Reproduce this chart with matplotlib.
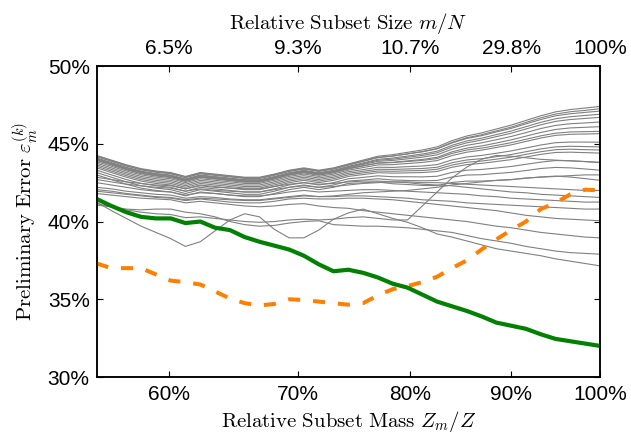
import matplotlib
matplotlib.use("Agg")
import matplotlib.pyplot as plt
import numpy as np

plt.rcParams['font.family'] = ['Liberation Sans', 'DejaVu Sans']
plt.rcParams['mathtext.fontset'] = 'cm'

# tick labels (bottom: relative mass, top: relative size) and their step positions
mass_labels = ['60%', '70%', '80%', '90%', '100%']
size_labels = ['6.5%', '9.3%', '10.7%', '29.8%', '100%']
tick_steps = [4.9, 13.6, 21.2, 28.0, 34]
error_ticks = [30, 35, 40, 45, 50]

# preliminary error (%) per step
green_err = [41.45, 41.0, 40.6, 40.3, 40.2, 40.2, 39.9, 40.0, 39.6, 39.45, 39.0, 38.7, 38.45, 38.2, 37.8,
             37.25, 36.8, 36.9, 36.7, 36.4, 36.0, 35.75, 35.3, 34.85, 34.55, 34.25, 33.9, 33.5, 33.3,
             33.1, 32.75, 32.45, 32.3, 32.15, 32.0]
orange_err = [37.3, 37.0, 37.0, 37.0, 36.6, 36.2, 36.1, 35.95, 35.5, 35.05, 34.75, 34.6, 34.7, 35.0, 34.95,
              34.85, 34.75, 34.65, 34.75, 35.25, 35.65, 35.85, 36.1, 36.45, 37.0, 37.5, 38.2, 38.85, 39.45,
              40.0, 40.8, 41.2, 41.75, 42.05, 42.0]

trial_errors = [
    [44.25, 43.95, 43.65, 43.4, 43.25, 43.15, 42.9, 43.15, 43.05, 42.95, 42.85, 42.85, 43.05, 43.3, 43.45, 43.3, 43.45, 43.7,
     43.95, 44.2, 44.3, 44.45, 44.6, 44.8, 45.2, 45.5, 45.7, 45.95, 46.2, 46.5, 46.8, 47.05, 47.2, 47.3, 47.4],
    [44.21, 43.91, 43.61, 43.36, 43.21, 43.11, 42.86, 43.11, 43.01, 42.91, 42.81, 42.81, 43.01, 43.26, 43.41, 43.26, 43.41, 43.66,
     43.89, 44.13, 44.21, 44.35, 44.48, 44.67, 45.05, 45.34, 45.52, 45.76, 45.99, 46.28, 46.56, 46.8, 46.93, 47.02, 47.1],
    [44.17, 43.87, 43.57, 43.32, 43.17, 43.07, 42.82, 43.07, 42.97, 42.87, 42.77, 42.77, 42.97, 43.22, 43.37, 43.22, 43.37, 43.62,
     43.87, 44.11, 44.21, 44.35, 44.5, 44.7, 45.09, 45.39, 45.58, 45.83, 46.07, 46.37, 46.67, 46.91, 47.06, 47.15, 47.25],
    [44.09, 43.79, 43.49, 43.24, 43.09, 42.99, 42.74, 42.99, 42.89, 42.79, 42.69, 42.69, 42.89, 43.14, 43.29, 43.14, 43.29, 43.54,
     43.77, 44.0, 44.08, 44.21, 44.34, 44.52, 44.9, 45.18, 45.36, 45.59, 45.82, 46.1, 46.38, 46.61, 46.74, 46.82, 46.9],
    [44.05, 43.75, 43.45, 43.2, 43.05, 42.95, 42.7, 42.95, 42.85, 42.75, 42.65, 42.65, 42.85, 43.1, 43.25, 43.1, 43.25, 43.5,
     43.72, 43.94, 44.01, 44.13, 44.25, 44.42, 44.79, 45.06, 45.24, 45.46, 45.68, 45.95, 46.22, 46.44, 46.56, 46.63, 46.7],
    [44.01, 43.71, 43.41, 43.16, 43.01, 42.91, 42.66, 42.91, 42.81, 42.71, 42.61, 42.61, 42.81, 43.06, 43.21, 43.06, 43.21, 43.46,
     43.67, 43.87, 43.93, 44.03, 44.14, 44.29, 44.65, 44.9, 45.06, 45.26, 45.47, 45.72, 45.98, 46.18, 46.29, 46.34, 46.4],
    [43.97, 43.67, 43.37, 43.12, 42.97, 42.87, 42.62, 42.87, 42.77, 42.67, 42.57, 42.57, 42.77, 43.02, 43.17, 43.02, 43.17, 43.42,
     43.59, 43.76, 43.79, 43.86, 43.93, 44.05, 44.38, 44.6, 44.72, 44.89, 45.07, 45.29, 45.51, 45.68, 45.76, 45.78, 45.8],
    [43.93, 43.63, 43.33, 43.08, 42.93, 42.83, 42.58, 42.83, 42.73, 42.63, 42.53, 42.53, 42.73, 42.98, 43.13, 42.98, 43.13, 43.38,
     43.57, 43.76, 43.81, 43.9, 43.99, 44.13, 44.48, 44.72, 44.86, 45.05, 45.25, 45.49, 45.73, 45.92, 46.02, 46.06, 46.1],
    [43.85, 43.55, 43.25, 43.0, 42.85, 42.75, 42.5, 42.75, 42.65, 42.55, 42.45, 42.45, 42.65, 42.9, 43.05, 42.9, 43.05, 43.3,
     43.47, 43.64, 43.66, 43.73, 43.8, 43.92, 44.24, 44.46, 44.59, 44.76, 44.93, 45.15, 45.37, 45.54, 45.61, 45.63, 45.65],
    [43.75, 43.45, 43.15, 42.9, 42.75, 42.65, 42.4, 42.65, 42.55, 42.45, 42.35, 42.35, 42.55, 42.8, 42.95, 42.8, 42.95, 43.2,
     43.34, 43.49, 43.48, 43.53, 43.57, 43.66, 43.96, 44.15, 44.25, 44.39, 44.54, 44.73, 44.92, 45.07, 45.11, 45.11, 45.1],
    [43.65, 43.35, 43.05, 42.8, 42.65, 42.55, 42.3, 42.55, 42.45, 42.35, 42.25, 42.25, 42.45, 42.7, 42.85, 42.7, 42.85, 43.1,
     43.23, 43.36, 43.35, 43.38, 43.41, 43.49, 43.78, 43.96, 44.04, 44.17, 44.31, 44.49, 44.67, 44.8, 44.84, 44.82, 44.8],
    [43.55, 43.25, 42.95, 42.7, 42.55, 42.45, 42.2, 42.45, 42.35, 42.25, 42.15, 42.15, 42.35, 42.6, 42.75, 42.6, 42.75, 43.0,
     43.13, 43.25, 43.23, 43.26, 43.28, 43.36, 43.63, 43.81, 43.89, 44.01, 44.14, 44.32, 44.49, 44.62, 44.65, 44.62, 44.6],
    [43.45, 43.15, 42.85, 42.6, 42.45, 42.35, 42.1, 42.35, 42.25, 42.15, 42.05, 42.05, 42.25, 42.5, 42.65, 42.5, 42.65, 42.9,
     43.02, 43.14, 43.11, 43.13, 43.15, 43.22, 43.49, 43.66, 43.74, 43.86, 43.98, 44.15, 44.32, 44.44, 44.46, 44.43, 44.4],
    [43.3, 43.0, 42.7, 42.45, 42.3, 42.2, 41.95, 42.2, 42.1, 42.0, 41.9, 41.9, 42.1, 42.35, 42.5, 42.35, 42.5, 42.75,
     42.84, 42.94, 42.88, 42.88, 42.87, 42.91, 43.16, 43.3, 43.35, 43.44, 43.54, 43.68, 43.82, 43.92, 43.91, 43.86, 43.8],
    [43.15, 42.85, 42.55, 42.3, 42.15, 42.05, 41.8, 42.05, 41.95, 41.85, 41.75, 41.75, 41.95, 42.2, 42.35, 42.2, 42.35, 42.6,
     42.67, 42.75, 42.67, 42.64, 42.62, 42.64, 42.86, 42.99, 43.01, 43.09, 43.16, 43.28, 43.41, 43.48, 43.45, 43.38, 43.3],
    [43.0, 42.7, 42.4, 42.15, 42.0, 41.9, 41.65, 41.9, 41.8, 41.7, 41.6, 41.6, 41.8, 42.05, 42.2, 42.05, 42.2, 42.45,
     42.49, 42.54, 42.43, 42.38, 42.32, 42.31, 42.51, 42.6, 42.6, 42.64, 42.69, 42.78, 42.87, 42.92, 42.86, 42.76, 42.65],
    [42.85, 42.7, 42.55, 42.45, 42.35, 42.3, 42.1, 42.3, 42.2, 42.15, 42.1, 42.1, 42.25, 42.4, 42.5, 42.4, 42.45, 42.55,
     42.6, 42.6, 42.55, 42.5, 42.4, 42.35, 42.3, 42.2, 42.1, 42.0, 41.9, 41.85, 41.75, 41.7, 41.65, 41.6, 41.55],
    [42.7, 42.55, 42.4, 42.3, 42.2, 42.15, 41.95, 42.1, 42.0, 41.95, 41.9, 41.9, 42.05, 42.2, 42.3, 42.2, 42.25, 42.35,
     42.45, 42.5, 42.55, 42.55, 42.5, 42.5, 42.45, 42.4, 42.35, 42.3, 42.25, 42.2, 42.15, 42.1, 42.05, 42.0, 42.0],
    [42.5, 42.35, 42.2, 42.05, 41.95, 41.9, 41.7, 41.85, 41.8, 41.7, 41.65, 41.65, 41.75, 41.9, 42.0, 41.9, 41.95, 42.0,
     42.05, 42.05, 42.0, 41.95, 41.9, 41.85, 41.8, 41.75, 41.65, 41.6, 41.5, 41.45, 41.4, 41.35, 41.3, 41.25, 41.25],
    [42.2, 42.1, 41.95, 41.85, 41.75, 41.7, 41.5, 41.6, 41.55, 41.45, 41.4, 41.4, 41.5, 41.6, 41.7, 41.6, 41.6, 41.65,
     41.65, 41.6, 41.55, 41.5, 41.4, 41.35, 41.3, 41.2, 41.15, 41.1, 41.05, 41.0, 40.95, 40.9, 40.85, 40.8, 40.8],
    [42.05, 41.95, 41.8, 41.7, 41.6, 41.55, 41.4, 41.5, 41.45, 41.4, 41.35, 41.35, 41.45, 41.55, 41.65, 41.6, 41.65, 41.75,
     41.85, 41.9, 41.95, 42.0, 42.1, 42.2, 42.35, 42.45, 42.55, 42.65, 42.7, 42.8, 42.85, 42.9, 42.95, 43.0, 43.0],
    [41.95, 41.85, 41.75, 41.65, 41.55, 41.5, 41.35, 41.45, 41.35, 41.25, 41.2, 41.2, 41.3, 41.45, 41.5, 41.45, 41.45, 41.5,
     41.5, 41.45, 41.4, 41.3, 41.2, 41.1, 41.0, 40.9, 40.8, 40.7, 40.55, 40.4, 40.3, 40.2, 40.15, 40.1, 40.05],
    [41.8, 41.7, 41.6, 41.5, 41.45, 41.4, 41.2, 41.3, 41.2, 41.1, 41.0, 40.95, 41.0, 41.1, 41.15, 41.0, 40.9, 40.85,
     40.7, 40.6, 40.5, 40.4, 40.3, 40.2, 40.1, 40.0, 39.85, 39.7, 39.6, 39.45, 39.3, 39.2, 39.1, 39.0, 38.95],
    [41.25, 40.7, 40.2, 39.7, 39.3, 38.9, 38.4, 38.7, 39.4, 40.1, 40.5, 40.3, 39.5, 38.95, 38.95, 39.45, 40.15, 40.55,
     40.8, 40.5, 40.2, 39.95, 39.6, 39.2, 39.0, 38.75, 38.5, 38.25, 38.1, 37.95, 37.8, 37.6, 37.45, 37.3, 37.15],
    [41.15, 40.95, 40.75, 40.6, 40.5, 40.45, 40.25, 40.3, 40.2, 40.1, 40.0, 39.95, 40.0, 40.1, 40.15, 40.1, 40.15, 40.25,
     40.3, 40.2, 40.1, 40.1, 41.0, 41.9, 42.8, 43.5, 44.0, 44.25, 44.2, 44.1, 44.0, 43.95, 43.9, 43.85, 43.8],
    [41.05, 40.95, 40.8, 40.75, 40.8, 40.8, 40.6, 40.5, 40.3, 40.0, 39.8, 39.7, 39.75, 39.9, 40.0, 40.05, 39.8, 39.75,
     39.7, 39.7, 39.65, 39.6, 39.5, 39.4, 39.3, 39.1, 38.9, 38.75, 38.6, 38.4, 38.25, 38.1, 38.0, 37.95, 37.9],
]

steps = np.arange(len(green_err))

fig = plt.figure(figsize=(6.31, 4.33), dpi=100)
ax = fig.add_axes([0.1532, 0.1293, 0.7976, 0.7182])

for run in trial_errors:
    ax.plot(steps, run, color='#808080', lw=0.8, zorder=2)
ax.plot(steps, orange_err, color='#ff8000', lw=2.9, dashes=(3.0, 3.2), zorder=3)
ax.plot(steps, green_err, color='#008000', lw=3.0, zorder=4)

ax.set_xlim(0, steps[-1])
ax.set_ylim(30, 50)
ax.set_xticks(tick_steps)
ax.set_xticklabels(mass_labels)
ax.set_yticks(error_ticks)
ax.set_yticklabels([f'{v}%' for v in error_ticks])
ax.tick_params(axis='x', direction='in', length=4.5, width=0.8, labelsize=15, pad=6)
ax.tick_params(axis='y', direction='in', length=4.5, width=0.8, labelsize=15, pad=5, right=True)

top = ax.twiny()
top.set_xlim(ax.get_xlim())
top.set_xticks(tick_steps)
top.set_xticklabels(size_labels)
top.tick_params(axis='x', direction='in', length=4.5, width=0.8, labelsize=15, pad=6)

for a in (ax, top):
    for s in a.spines.values():
        s.set_linewidth(1.1)

ax.set_xlabel(r'$\mathrm{Relative\ Subset\ Mass}\ Z_m/Z$', fontsize=15, labelpad=3)
top.set_xlabel(r'$\mathrm{Relative\ Subset\ Size}\ m/N$', fontsize=15, labelpad=7)
ax.set_ylabel(r'$\mathrm{Preliminary\ Error}\ \varepsilon_m^{(k)}$', fontsize=15, labelpad=5)

fig.savefig('out.png', dpi=100)
